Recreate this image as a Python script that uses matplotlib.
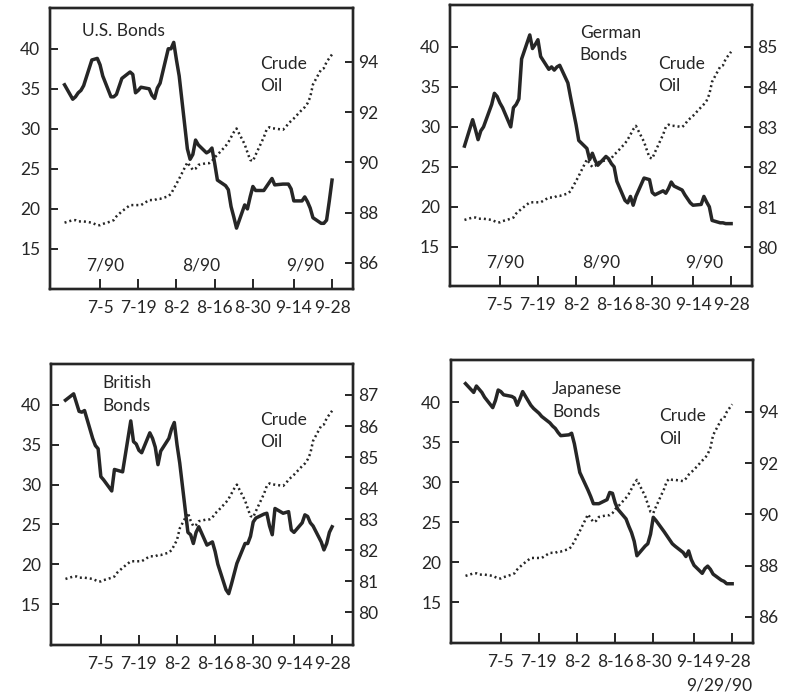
import numpy as np
import pandas as pd
import matplotlib
matplotlib.use("Agg")
import matplotlib.pyplot as plt
import matplotlib.dates as mdates

plt.rcParams['font.family'] = ['Lato', 'DejaVu Sans']

# business days 6/22/90 .. 9/28/90
dates = pd.bdate_range('1990-06-22', '1990-09-28')

us_bonds = [35.5,
            33.7, 34.0, 34.5, 34.8, 35.4,
            38.6, 38.7, 38.8, 38.0, 36.6,
            34.0, 34.0, 34.3, 35.3, 36.3,
            37.1, 36.8, 34.5, 34.8, 35.2,
            35.0, 34.2, 33.8, 35.1, 35.7,
            40.0, 40.0, 40.8, 38.6, 36.6,
            27.5, 26.2, 26.8, 28.6, 28.0,
            27.0, 27.2, 27.6, 25.7, 23.6,
            22.9, 22.4, 20.3, 19.0, 17.6,
            20.5, 20.0, 21.5, 22.8, 22.3,
            22.3, 22.8, 23.3, 23.8, 23.0,
            23.1, 23.1, 23.1, 22.5, 21.0,
            21.0, 21.5, 20.9, 20.1, 18.9,
            18.2, 18.2, 18.6, 21.0, 23.6]

german_bonds = [27.6,
                30.9, 29.7, 28.4, 29.5, 30.0,
                32.8, 34.2, 33.8, 33.0, 32.4,
                30.0, 32.4, 32.8, 33.5, 38.5,
                41.5, 39.8, 40.3, 40.9, 38.8,
                37.2, 37.5, 37.1, 37.5, 37.7,
                35.5, 33.7, 32.0, 30.3, 28.3,
                27.3, 25.9, 26.7, 25.8, 25.2,
                26.3, 26.0, 25.4, 25.0, 23.2,
                20.8, 20.5, 21.3, 20.2, 21.3,
                23.6, 23.5, 23.4, 21.8, 21.5,
                22.0, 21.7, 22.3, 23.1, 22.6,
                22.1, 21.5, 21.0, 20.5, 20.2,
                20.3, 21.3, 20.6, 20.0, 18.3,
                18.0, 18.0, 17.9, 17.9, 17.9]

british_bonds = [40.6,
                 41.4, 40.3, 39.2, 39.1, 39.3,
                 35.8, 34.9, 34.5, 31.0, 30.6,
                 29.2, 31.9, 31.8, 31.7, 31.6,
                 38.0, 35.4, 35.1, 34.3, 34.0,
                 36.5, 35.8, 34.7, 32.5, 34.2,
                 35.8, 37.0, 37.8, 35.0, 32.7,
                 24.0, 23.7, 22.6, 24.0, 24.7,
                 22.4, 22.6, 22.8, 21.6, 20.0,
                 16.8, 16.3, 17.5, 18.8, 20.1,
                 22.6, 22.6, 23.5, 25.3, 25.8,
                 26.3, 26.4, 24.8, 23.7, 27.0,
                 26.4, 26.5, 26.6, 24.3, 24.0,
                 25.2, 26.2, 26.0, 25.2, 24.8,
                 22.8, 21.8, 22.6, 24.0, 24.7]

japanese_bonds = [42.3,
                  41.2, 42.0, 41.6, 41.2, 40.6,
                  39.3, 40.2, 41.5, 41.3, 40.9,
                  40.7, 40.5, 39.6, 40.4, 41.3,
                  39.6, 39.2, 38.9, 38.6, 38.2,
                  37.4, 37.0, 36.7, 36.2, 35.8,
                  35.9, 36.1, 34.8, 33.0, 31.2,
                  29.0, 28.2, 27.3, 27.3, 27.3,
                  27.8, 28.7, 28.6, 27.4, 26.6,
                  25.4, 24.5, 23.7, 22.6, 20.8,
                  22.0, 22.3, 23.5, 25.6, 25.2,
                  23.8, 23.3, 22.8, 22.3, 22.0,
                  21.2, 20.7, 21.4, 20.3, 19.6,
                  18.6, 19.2, 19.5, 19.1, 18.5,
                  17.75, 17.6, 17.3, 17.3, 17.3]

oil_usd = [87.6,
           87.7, 87.7, 87.65, 87.65, 87.65,
           87.6, 87.55, 87.5, 87.5, 87.55,
           87.65, 87.7, 87.85, 87.95, 88.05,
           88.3, 88.3, 88.3, 88.3, 88.3,
           88.5, 88.5, 88.5, 88.55, 88.55,
           88.65, 88.75, 88.95, 89.15, 89.35,
           90.0, 89.85, 89.7, 89.75, 89.9,
           89.97, 89.97, 90.05, 90.2, 90.3,
           90.65, 90.8, 91.0, 91.2, 91.35,
           90.72, 90.4, 90.1, 90.05, 90.3,
           91.0, 91.3, 91.4, 91.35, 91.35,
           91.3, 91.4, 91.55, 91.65, 91.75,
           92.1, 92.2, 92.35, 92.6, 93.1,
           93.7, 93.75, 94.0, 94.15, 94.3]

oil_german = [80.68,
              80.74, 80.74, 80.71, 80.71, 80.71,
              80.68, 80.65, 80.62, 80.62, 80.65,
              80.71, 80.74, 80.84, 80.90, 80.96,
              81.12, 81.12, 81.12, 81.12, 81.12,
              81.24, 81.24, 81.24, 81.28, 81.28,
              81.34, 81.40, 81.53, 81.65, 81.78,
              82.19, 82.09, 82.00, 82.03, 82.12,
              82.17, 82.17, 82.22, 82.31, 82.37,
              82.59, 82.69, 82.81, 82.94, 83.03,
              82.63, 82.43, 82.24, 82.21, 82.37,
              82.81, 83.00, 83.06, 83.03, 83.03,
              83.00, 83.06, 83.16, 83.22, 83.28,
              83.50, 83.57, 83.66, 83.82, 84.13,
              84.51, 84.54, 84.70, 84.79, 84.88]

oil_british = [81.07,
               81.15, 81.15, 81.11, 81.11, 81.11,
               81.07, 81.03, 80.99, 80.99, 81.03,
               81.11, 81.15, 81.27, 81.35, 81.43,
               81.64, 81.64, 81.64, 81.64, 81.64,
               81.80, 81.80, 81.80, 81.84, 81.84,
               81.92, 82.00, 82.16, 82.33, 82.70,
               83.20, 82.95, 82.77, 82.81, 82.93,
               82.99, 82.99, 83.05, 83.18, 83.26,
               83.54, 83.66, 83.82, 83.98, 84.11,
               83.60, 83.34, 83.10, 83.06, 83.26,
               83.82, 84.07, 84.15, 84.11, 84.11,
               84.07, 84.15, 84.27, 84.35, 84.43,
               84.71, 84.79, 84.92, 85.12, 85.52,
               86.01, 86.05, 86.25, 86.37, 86.49]

tick_dates = ['1990-07-05', '1990-07-19', '1990-08-02', '1990-08-16',
              '1990-08-30', '1990-09-14', '1990-09-28']
tick_labels = ['7-5', '7-19', '8-2', '8-16', '8-30', '9-14', '9-28']
left_ticks = [15, 20, 25, 30, 35, 40]
month_labels = ['7/90', '8/90', '9/90']

INK = '#262626'
FS = 12.5

fig = plt.figure(figsize=(8.09, 6.97), dpi=100)
fig.patch.set_facecolor('white')

panels = [
    dict(rect=[0.0618, 0.5854, 0.3745, 0.4032], bonds=us_bonds, oil=oil_usd,
         name='U.S. Bonds', name_xy=(0.106, 0.945), oil_xy=(0.693, 0.83),
         ylim=(10.0, 45.1), ylim2=(84.96, 96.15), rticks=[86, 88, 90, 92, 94],
         months=True),
    dict(rect=[0.5562, 0.5897, 0.3733, 0.4032], bonds=german_bonds, oil=oil_german,
         name='German\nBonds', name_xy=(0.43, 0.93), oil_xy=(0.689, 0.82),
         ylim=(10.1, 45.25), ylim2=(79.03, 86.05), rticks=[80, 81, 82, 83, 84, 85],
         months=True),
    dict(rect=[0.0630, 0.0746, 0.3733, 0.4032], bonds=british_bonds, oil=oil_british,
         name='British\nBonds', name_xy=(0.169, 0.96), oil_xy=(0.692, 0.83),
         ylim=(9.85, 45.15), ylim2=(78.94, 88.0), rticks=[80, 81, 82, 83, 84, 85, 86, 87],
         months=False),
    dict(rect=[0.5575, 0.0775, 0.3733, 0.406], bonds=japanese_bonds, oil=oil_usd,
         name='Japanese\nBonds', name_xy=(0.334, 0.925), oil_xy=(0.689, 0.83),
         ylim=(9.9, 45.25), ylim2=(84.98, 96.03), rticks=[86, 88, 90, 92, 94],
         months=False),
]

xmin = mdates.date2num(pd.Timestamp('1990-06-16 16:00'))
xmax = mdates.date2num(pd.Timestamp('1990-10-05 16:00'))

for p in panels:
    ax = fig.add_axes(p['rect'])
    ax2 = ax.twinx()
    ax.plot(dates, p['bonds'], color=INK, lw=2.5, solid_joinstyle='round')
    ax2.plot(dates, p['oil'], color=INK, lw=1.8, linestyle=(0, (0.8, 1.2)))

    ax.set_xlim(xmin, xmax)
    ax.set_ylim(*p['ylim'])
    ax2.set_ylim(*p['ylim2'])

    ax.set_xticks([mdates.date2num(pd.Timestamp(d)) for d in tick_dates])
    ax.set_xticklabels(tick_labels)
    ax.set_yticks(left_ticks)
    ax2.set_yticks(p['rticks'])

    ax.tick_params(axis='x', direction='in', length=7, width=1.4, pad=8,
                   labelsize=FS, colors=INK)
    ax.tick_params(axis='y', direction='in', length=6, width=1.4, pad=7,
                   labelsize=FS, colors=INK)
    ax2.tick_params(axis='y', direction='in', length=6, width=1.4, pad=4,
                    labelsize=FS, colors=INK)

    for a in (ax, ax2):
        for s in a.spines.values():
            s.set_linewidth(1.7)
            s.set_color(INK)

    ax.text(p['name_xy'][0], p['name_xy'][1], p['name'], transform=ax.transAxes,
            ha='left', va='top', fontsize=FS, color=INK, linespacing=1.5)
    ax.text(p['oil_xy'][0], p['oil_xy'][1], 'Crude\nOil', transform=ax.transAxes,
            ha='left', va='top', fontsize=FS, color=INK, linespacing=1.5)

    if p['months']:
        for xf, lab in zip([0.182, 0.50, 0.841], month_labels):
            ax.text(xf, 0.085, lab, transform=ax.transAxes, ha='center',
                    va='center', fontsize=FS, color=INK)

fig.text(0.93, 0.017, '9/29/90', ha='right', va='center', fontsize=FS, color=INK)

fig.savefig('out.png', dpi=100, facecolor='white')
